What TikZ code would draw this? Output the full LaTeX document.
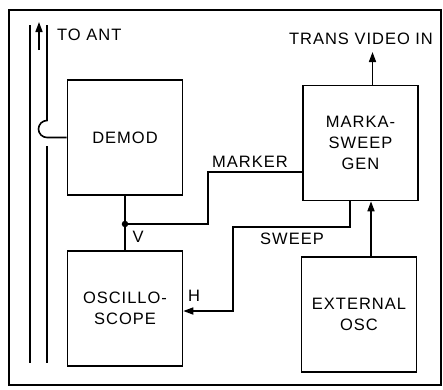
\documentclass[tikz,border=0pt]{standalone}
\usepackage{fontspec}
\newfontfamily\labfont[LetterSpace=6]{Liberation Sans}
\usetikzlibrary{arrows.meta,positioning,calc}

\begin{document}
\begin{tikzpicture}[
  x=1pt,y=-1pt,
  ed/.style={line width=1.6pt},
  arr/.style={ed,-{Triangle[length=10pt,width=7pt]}},
  blk/.style={draw,line width=1.6pt,minimum width=115pt,minimum height=115pt,
    align=center,font=\labfont\fontsize{16.5}{21}\selectfont},
  lab/.style={font=\labfont\fontsize{16.5}{20}\selectfont,inner sep=1pt},
  dot/.style={circle,fill=black,inner sep=2.3pt}
]
\useasboundingbox (0,0) rectangle (443,389);
\draw[line width=2pt] (9,10) rectangle (441,385);

% antenna feed
\coordinate (a1) at (30,25);
\coordinate (a2) at (47,25);
\draw[ed] (a1) -- (30,363);
\draw[arr] (39,50) -- (39,22);
\node[lab,anchor=west] (toant) at (56,35) {TO ANT};

% blocks
\node[blk] (demod) at (125,137.5) {DEMOD};
\node[blk] (osc) at (125,308.5) {OSCILLO-\\SCOPE};
\node[blk] (gen) at (360.5,143) {MARKA-\\SWEEP\\GEN};
\node[blk] (ext) at (359,314.5) {EXTERNAL\\OSC};

% pickup loop to demod
\draw[ed] (a2) -- (47,120.5) arc[start angle=270,end angle=90,radius=8.5] -- (demod.west);
\draw[ed] (47,146) -- (47,363);

% vertical input and marker
\node[dot] (j) at (125,224) {};
\draw[ed] (demod.south) -- (j) -- (osc.north);
\node[lab,below right=3pt and 4pt of j] (v) {V};
\coordinate (mk) at (208,172);
\draw[ed] (j) -| (mk) -- (mk -| gen.west);
\node[lab] (marker) at (250,162) {MARKER};

% sweep to horizontal input
\coordinate (swa) at (350,227);
\coordinate (swb) at (233,311);
\draw[arr] (swa |- gen.south) -- (swa) -| (swb) -- (swb -| osc.east);
\node[lab] (sweep) at (292,239) {SWEEP};
\node[lab] (h) at (194,296) {H};

% external osc and video out
\draw[arr] ([xshift=12pt]ext.north) -- ([xshift=12pt]ext.north |- gen.south);
\node[lab] (tvin) at (361,39) {TRANS VIDEO IN};
\draw[arr] ([xshift=12pt]gen.north) -- ([xshift=12pt]gen.north |- 0,52);
\end{tikzpicture}
\end{document}
